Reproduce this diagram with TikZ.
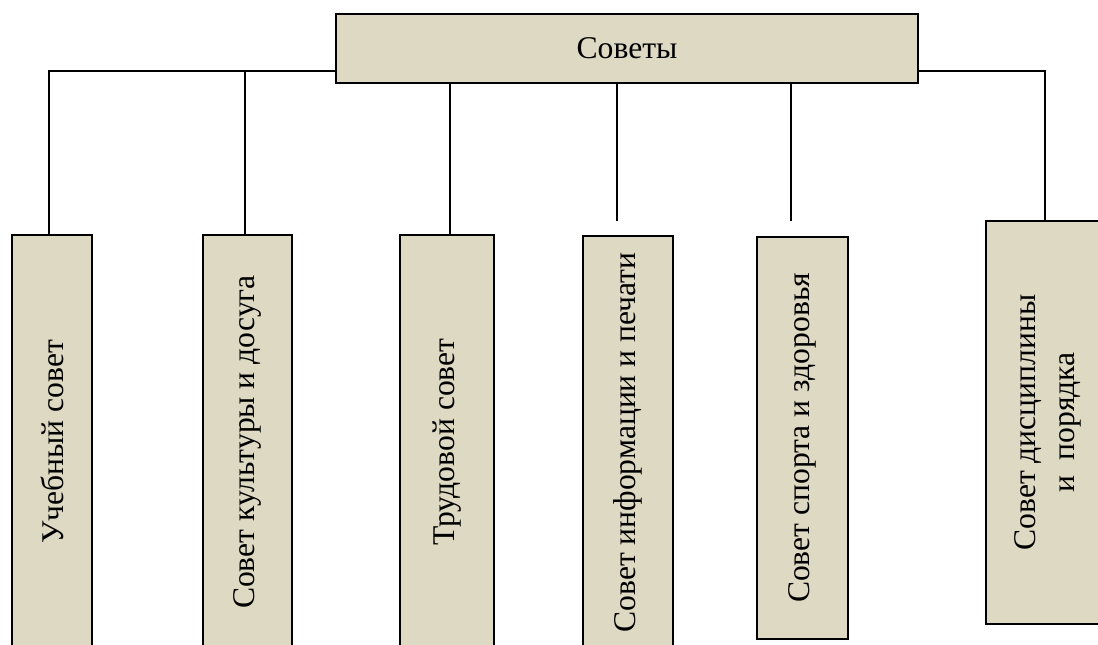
\documentclass[tikz,border=0pt]{standalone}
\usepackage{fontspec}
\setmainfont{Liberation Serif}
\usepackage{graphicx}
\definecolor{boxfill}{HTML}{DDD9C3}
\begin{document}
\begin{tikzpicture}[x=0.02cm,y=-0.02cm,
  box/.style={draw,line width=1.1pt,fill=boxfill,inner sep=0pt,font=\fontsize{18}{22}\selectfont},
  link/.style={line width=0.85pt}]
\useasboundingbox (0,0) rectangle (1098,645);
%\draw[step=50,gray,very thin] (0,0) grid (1098,645); %background grid
\node[box,minimum width=11.64cm,minimum height=1.38cm] (sovety) at (627,48.5) {Советы};
\node[box,minimum width=1.6cm,minimum height=8.28cm] (ucheb) at (52,442) {\rotatebox{90}{Учебный совет}};
\node[box,minimum width=1.78cm,minimum height=8.28cm] (kult) at (247.5,442) {\rotatebox{90}{Совет культуры и досуга}};
\node[box,minimum width=1.88cm,minimum height=8.28cm] (trud) at (447,442) {\rotatebox{90}{Трудовой совет}};
\node[box,minimum width=1.8cm,minimum height=8.26cm] (info) at (628,442.5) {\rotatebox{90}{Совет информации и печати}};
\node[box,minimum width=1.82cm,minimum height=8.04cm] (sport) at (802.5,438) {\rotatebox{90}{Совет спорта и здоровья}};
\node[box,minimum width=2.44cm,minimum height=8.06cm] (discip) at (1047,422.5) {\rotatebox{90}{\begin{tabular}{@{}c@{}}Совет дисциплины\\и\ \ порядка\end{tabular}}};
\coordinate (jl) at (336,71); \coordinate (jr) at (918,71);
\coordinate (d1) at (49,71); \coordinate (d2) at (245,71); \coordinate (d6) at (1045,71);
\coordinate (d3) at (450,83); \coordinate (d4) at (617,83); \coordinate (d5) at (791,83);
\coordinate (e4) at (617,221); \coordinate (e5) at (791,221);
\draw[link] (jl) -- (d1) -- (d1 |- ucheb.north);
\draw[link] (d2) -- (d2 |- kult.north);
\draw[link] (d3) -- (d3 |- trud.north);
\draw[link] (d4) -- (e4);
\draw[link] (d5) -- (e5);
\draw[link] (jr) -- (d6) -- (d6 |- discip.north);
\end{tikzpicture}
\end{document}
